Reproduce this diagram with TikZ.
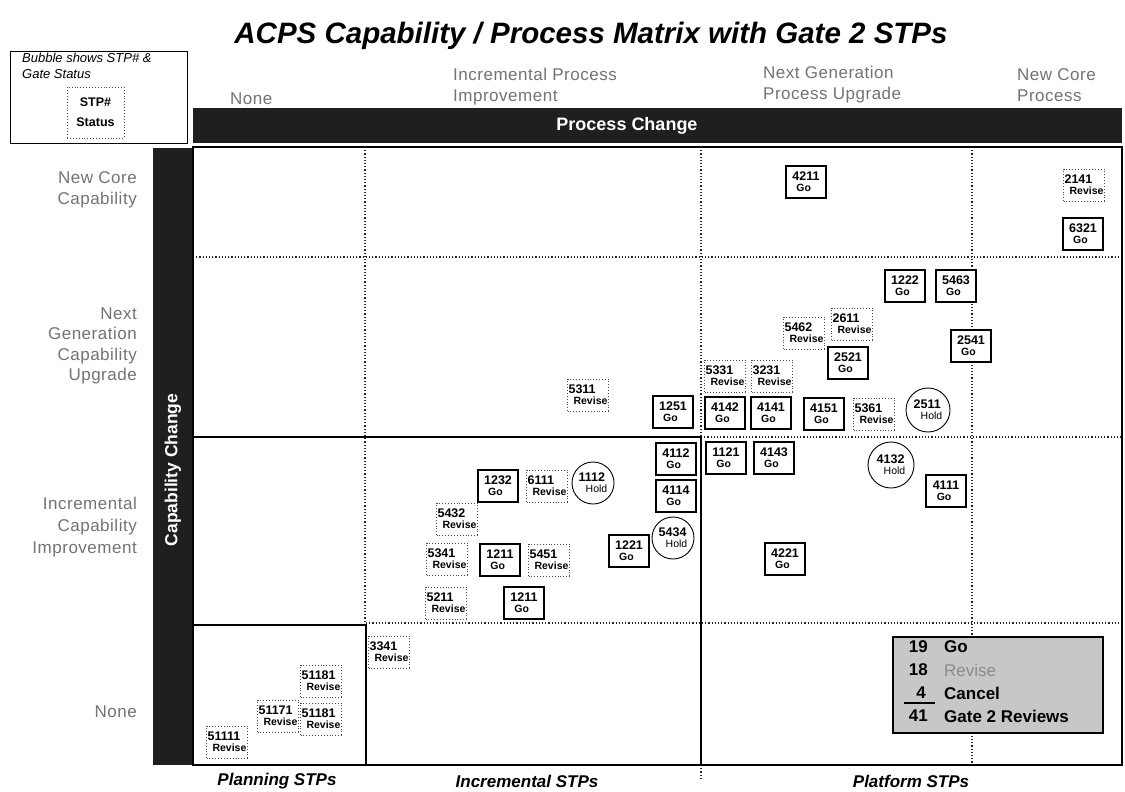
\documentclass[tikz,border=0pt]{standalone}
\usepackage{fontspec}
\setmainfont{Liberation Sans}
\newfontfamily\labelfont[LetterSpace=3]{Liberation Sans}
\usetikzlibrary{positioning}

\tikzset{
  stpfont/.style={font=\bfseries\fontsize{12.5}{12}\selectfont},
  gobox/.style={draw=black, line width=1.3pt, fill=white, minimum width=40, minimum height=32,
    inner sep=1pt, align=left, stpfont},
  revbox/.style={draw=black!70, dotted, line width=0.9pt, fill=white, minimum width=40, minimum height=32,
    inner sep=1pt, align=left, stpfont},
  holdcirc/.style={draw=black, line width=0.9pt, circle, fill=white, minimum size=44,
    inner sep=0pt, align=left, stpfont},
  darkbar/.style={fill=black!88, draw=none},
  gridline/.style={dotted, line width=1.2pt, black!85},
  solidline/.style={line width=1.3pt, black},
  axislabel/.style={font=\labelfont\fontsize{17}{21}\selectfont, text=black!55, inner sep=0pt},
  footlabel/.style={font=\bfseries\itshape\fontsize{17}{19}\selectfont, inner sep=0pt},
  totfont/.style={font=\bfseries\fontsize{17}{19}\selectfont, inner sep=0pt},
}
\newcommand{\gostp}[1]{#1\\[-1pt]\hspace*{4pt}{\fontsize{10.5}{11}\selectfont Go}}
\newcommand{\revstp}[1]{#1\\[-1pt]\hspace*{5pt}{\fontsize{10.5}{11}\selectfont Revise}}
\newcommand{\holdstp}[1]{#1\\[-1pt]\hspace*{7pt}{\mdseries\fontsize{10.5}{11}\selectfont Hold}}

\begin{document}
\begin{tikzpicture}[x=1pt, y=-1pt]
\useasboundingbox (0,0) rectangle (1125,792);
\fill[white] (0,0) rectangle (1125,792);

% title
\node[font=\bfseries\itshape\fontsize{29.5}{31}\selectfont] (title) at (591,36) {ACPS Capability / Process Matrix with Gate 2 STPs};

% key box, top left
\node[draw=black, line width=1pt, minimum width=177, minimum height=91, inner sep=0pt] (key) at (98.5,97.5) {};
\node[anchor=north west, font=\itshape\fontsize{13}{15.5}\selectfont, align=left, inner sep=0pt] (keytext) at (22,53) {Bubble shows STP\# \&\\Gate Status};
\node[draw=black!70, dotted, line width=0.9pt, minimum width=57, minimum height=51, inner sep=0pt,
      font=\bfseries\fontsize{12.5}{20}\selectfont, align=center] (keystp) at (95.5,112.5) {STP\#\\Status};

% header bars
\fill[darkbar] (193,108) rectangle (1122,143);
\node[font=\bfseries\fontsize{18}{20}\selectfont, text=white] (pc) at (627,126) {Process Change};
\fill[darkbar] (153,148) rectangle (192,765);
\node[font=\bfseries\fontsize{17.5}{19}\selectfont, text=white, rotate=90] (cc) at (173,470) {Capability Change};

% column headings
\node[axislabel, anchor=west] (colnone) at (230,99) {None};
\node[axislabel, anchor=north west, align=left] (colinc) at (453,68) {Incremental Process\\Improvement};
\node[axislabel, anchor=north west, align=left] (colnext) at (763,66) {Next Generation\\Process Upgrade};
\node[axislabel, anchor=north west, align=left] (colnew) at (1017,68) {New Core\\Process};

% row headings
\node[axislabel, anchor=east, align=right] (rownew) at (137,190) {New Core\\Capability};
\node[axislabel, anchor=east, align=right, font=\labelfont\fontsize{17}{20.5}\selectfont] (rownext) at (137,346) {Next\\Generation\\Capability\\Upgrade};
\node[axislabel, anchor=east, align=right, font=\labelfont\fontsize{17}{22}\selectfont] (rowinc) at (137,527) {Incremental\\Capability\\Improvement};
\node[axislabel, anchor=east] (rownone) at (137,712) {None};

% matrix grid
\draw[gridline] (193,257) -- (1122,257);
\draw[gridline] (701,437) -- (1122,437);
\draw[gridline] (366,623) -- (1122,623);
\draw[gridline] (365,147) -- (365,625);
\draw[gridline] (701,147) -- (701,437);
\draw[gridline] (972,147) -- (972,765);
\draw[gridline] (701,765) -- (701,778);
% region outlines
\draw[solidline] (193,147) rectangle (1122,765);
\draw[solidline] (193,437) -- (701,437) -- (701,765);
\draw[solidline] (193,625) -- (366,625) -- (366,765);

% STP bubbles: New Core Capability
\node[gobox] (s4211) at (806,182) {\gostp{4211}};
\node[revbox] (s2141) at (1084,185) {\revstp{2141}};
\node[gobox] (s6321) at (1083,234) {\gostp{6321}};

% Next Generation Capability Upgrade
\node[gobox] (s1222) at (905,286) {\gostp{1222}};
\node[gobox] (s5463) at (956,286) {\gostp{5463}};
\node[revbox] (s5462) at (804,333) {\revstp{5462}};
\node[revbox] (s2611) at (852,324) {\revstp{2611}};
\node[gobox] (s2521) at (848,363) {\gostp{2521}};
\node[gobox] (s2541) at (971,346) {\gostp{2541}};
\node[revbox] (s5331) at (725,376) {\revstp{5331}};
\node[revbox] (s3231) at (772,376) {\revstp{3231}};
\node[gobox] (s4142) at (725,413) {\gostp{4142}};
\node[gobox] (s4141) at (771,413) {\gostp{4141}};
\node[gobox] (s4151) at (824,414) {\gostp{4151}};
\node[revbox] (s5361) at (874,414) {\revstp{5361}};
\node[holdcirc] (s2511) at (928,410) {\holdstp{2511}};
\node[gobox] (s1251) at (673,412) {\gostp{1251}};
\node[revbox] (s5311) at (588,395) {\revstp{5311}};

% Incremental Capability Improvement
\node[gobox] (s4112) at (676,459) {\gostp{4112}};
\node[gobox] (s4114) at (676,496) {\gostp{4114}};
\node[holdcirc, minimum size=42] (s5434) at (673,538) {\holdstp{5434}};
\node[gobox] (s1221) at (629,551) {\gostp{1221}};
\node[gobox] (s1232) at (498,486) {\gostp{1232}};
\node[revbox] (s6111) at (547,486) {\revstp{6111}};
\node[holdcirc, minimum size=42] (s1112) at (593,483) {\holdstp{1112}};
\node[revbox] (s5432) at (457,519) {\revstp{5432}};
\node[revbox] (s5341) at (447,559) {\revstp{5341}};
\node[gobox] (s1211a) at (500,560) {\gostp{1211}};
\node[revbox] (s5451) at (549,560) {\revstp{5451}};
\node[revbox] (s5211) at (446,603) {\revstp{5211}};
\node[gobox] (s1211b) at (524,603) {\gostp{1211}};
\node[gobox] (s1121) at (726,458) {\gostp{1121}};
\node[gobox] (s4143) at (774,458) {\gostp{4143}};
\node[holdcirc, minimum size=46] (s4132) at (891,465) {\holdstp{4132}};
\node[gobox] (s4111) at (946,491) {\gostp{4111}};
\node[gobox] (s4221) at (785,559) {\gostp{4221}};

% No capability change
\node[revbox] (s3341) at (389,652) {\revstp{3341}};
\node[revbox] (s51181a) at (321,681) {\revstp{51181}};
\node[revbox] (s51171) at (278,716) {\revstp{51171}};
\node[revbox] (s51181b) at (321,719) {\revstp{51181}};
\node[revbox] (s51111) at (227,742) {\revstp{51111}};

% totals box
\node[draw=black, line width=1.3pt, fill=black!22, minimum width=210, minimum height=96, inner sep=0pt] (totals) at (998,685) {};
\node[totfont, anchor=east] (n19) at (928,647) {19};
\node[totfont, anchor=west] (wgo) at (944,647) {Go};
\node[totfont, anchor=east] (n18) at (928,670) {18};
\node[totfont, anchor=west, text=black!45, font=\mdseries\fontsize{17}{19}\selectfont] (wrev) at (944,670) {Revise};
\node[totfont, anchor=east] (n4) at (926,693) {4};
\node[totfont, anchor=west] (wcan) at (944,693) {Cancel};
\node[totfont, anchor=east] (n41) at (928,716) {41};
\node[totfont, anchor=west] (wtot) at (944,716) {Gate 2 Reviews};
\draw[line width=1.3pt] ([xshift=9pt,yshift=-4pt]n4.south east) coordinate (ul) -- ([xshift=-31pt]ul);

% footer labels
\node[footlabel] (fplan) at (277,781) {Planning STPs};
\node[footlabel] (finc) at (527,781) {Incremental STPs};
\node[footlabel] (fplat) at (911,781) {Platform STPs};
\end{tikzpicture}
\end{document}
